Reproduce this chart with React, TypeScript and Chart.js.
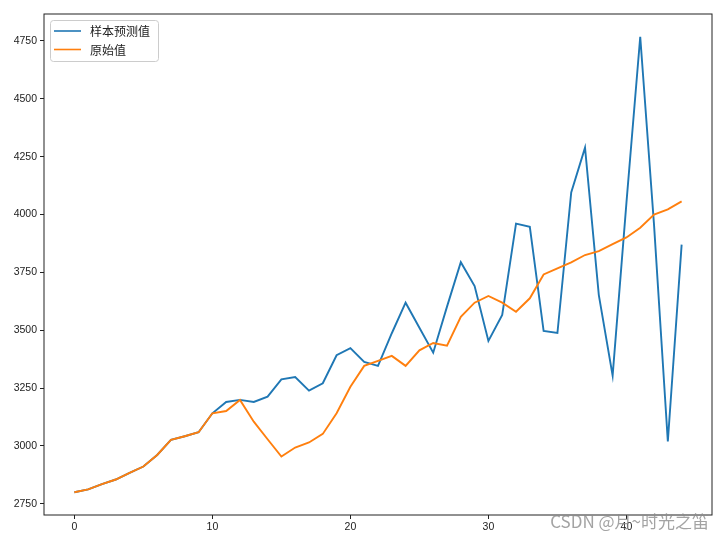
import React, { useEffect, useRef } from "react";
import { Chart, registerables } from "chart.js";

Chart.register(...registerables);

const seriesNames = ["样本预测值", "原始值"];
const predicted = [
  2800, 2812, 2835, 2855, 2884, 2911, 2961, 3026, 3042, 3059, 3141,
  3190, 3199, 3190, 3213, 3288, 3298, 3239, 3271, 3392, 3423,
  3363, 3346, 3487, 3619, 3511, 3403, 3602, 3794, 3691, 3454,
  3566, 3961, 3947, 3497, 3488, 4095, 4289, 3652, 3304, 4050,
  4768, 3955, 3019, 3870,
];
const original = [
  2800, 2812, 2835, 2855, 2884, 2911, 2961, 3026, 3042, 3059, 3141,
  3151, 3199, 3105, 3029, 2954, 2993, 3015, 3052, 3141, 3256,
  3346, 3368, 3389, 3346, 3413, 3445, 3433, 3558, 3619, 3648,
  3619, 3580, 3638, 3741, 3767, 3793, 3825, 3842, 3872, 3901,
  3943, 4000, 4022, 4057,
];
const xTicks = [0, 10, 20, 30, 40];
const yTicks = [2750, 3000, 3250, 3500, 3750, 4000, 4250, 4500, 4750];
const watermark = "CSDN @月~时光之笛";

const BLUE = "#1f77b4";
const ORANGE = "#ff7f0e";

function pad(vals: number[]) {
  const mn = Math.min(...vals);
  const mx = Math.max(...vals);
  const m = (mx - mn) * 0.05;
  return [mn - m, mx + m];
}

export default function App() {
  const ref = useRef<HTMLCanvasElement | null>(null);
  useEffect(() => {
    const [ymin, ymax] = pad([...predicted, ...original]);
    const [xmin, xmax] = pad([0, original.length - 1]);
    const framePlugin = {
      id: "frame",
      afterDraw(chart: any) {
        const { ctx, chartArea: a } = chart;
        ctx.save();
        ctx.strokeStyle = "#222";
        ctx.lineWidth = 1;
        ctx.strokeRect(a.left, a.top, a.right - a.left, a.bottom - a.top);
        // legend
        const lx = 50.5, ly = 20.5, lw = 108, lh = 41;
        ctx.fillStyle = "rgba(255,255,255,0.8)";
        ctx.strokeStyle = "#cccccc";
        ctx.beginPath();
        (ctx as any).roundRect(lx, ly, lw, lh, 3);
        ctx.fill();
        ctx.stroke();
        const rows = [
          { name: seriesNames[0], color: BLUE, y: 31 },
          { name: seriesNames[1], color: ORANGE, y: 49.5 },
        ];
        ctx.font = '12px "Noto Sans CJK SC", sans-serif';
        ctx.textBaseline = "middle";
        ctx.textAlign = "left";
        for (const r of rows) {
          ctx.strokeStyle = r.color;
          ctx.lineWidth = 1.6;
          ctx.beginPath();
          ctx.moveTo(54, r.y);
          ctx.lineTo(81, r.y);
          ctx.stroke();
          ctx.fillStyle = "#222";
          ctx.fillText(r.name, 90, r.y + 0.5);
        }
        // watermark
        ctx.font = '17px "Noto Sans CJK SC", sans-serif';
        ctx.fillStyle = "rgba(140,140,140,0.8)";
        ctx.textAlign = "right";
        ctx.textBaseline = "alphabetic";
        ctx.fillText(watermark, 709, 528);
        ctx.restore();
      },
    };
    const tickFont = { family: '"Liberation Sans", Arial, sans-serif', size: 10.5 };
    const chart = new Chart(ref.current as HTMLCanvasElement, {
      type: "line",
      data: {
        datasets: [
          {
            label: seriesNames[0],
            data: predicted.map((v, i) => ({ x: i, y: v })),
            borderColor: BLUE,
            borderWidth: 1.9,
            pointRadius: 0,
            tension: 0,
            order: 1,
          },
          {
            label: seriesNames[1],
            data: original.map((v, i) => ({ x: i, y: v })),
            borderColor: ORANGE,
            borderWidth: 1.9,
            pointRadius: 0,
            tension: 0,
            order: 0,
          },
        ],
      },
      options: {
        responsive: false,
        animation: false,
        layout: { padding: { left: 0, top: 14, right: 8, bottom: 0 } },
        plugins: { legend: { display: false }, tooltip: { enabled: false } },
        scales: {
          x: {
            type: "linear",
            min: xmin,
            max: xmax,
            afterBuildTicks: (s: any) => {
              s.ticks = xTicks.map((v) => ({ value: v }));
            },
            afterFit: (s: any) => {
              s.height = 24;
            },
            border: { display: false },
            grid: {
              drawOnChartArea: false,
              drawTicks: true,
              tickLength: 4,
              color: "#222",
            },
            ticks: {
              padding: 2,
              color: "#222",
              font: tickFont,
              maxRotation: 0,
              callback: (v: any) => String(v),
            },
          },
          y: {
            type: "linear",
            min: ymin,
            max: ymax,
            afterBuildTicks: (s: any) => {
              s.ticks = yTicks.map((v) => ({ value: v }));
            },
            afterFit: (s: any) => {
              s.width = 44;
            },
            border: { display: false },
            grid: {
              drawOnChartArea: false,
              drawTicks: true,
              tickLength: 4,
              color: "#222",
            },
            ticks: {
              padding: 3,
              color: "#222",
              font: tickFont,
              callback: (v: any) => String(v),
            },
          },
        },
      },
      plugins: [framePlugin],
    });
    return () => chart.destroy();
  }, []);
  return (
    <div style={{ position: "absolute", left: 0, top: 0, width: 720, height: 539, background: "#fff" }}>
      <canvas ref={ref} width={720} height={539} />
    </div>
  );
}
